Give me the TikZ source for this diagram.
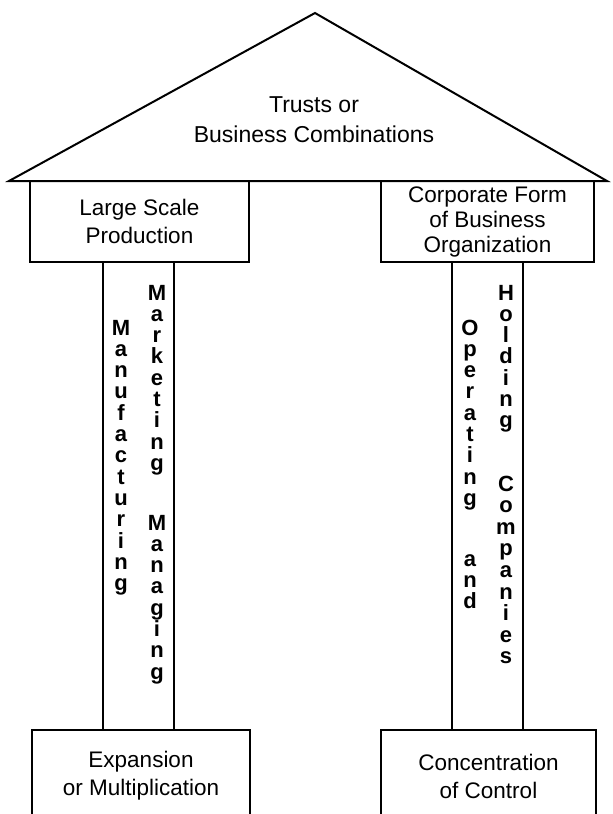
\documentclass[tikz,border=0pt]{standalone}
\usepackage{fontspec}
\setmainfont{Liberation Sans}
\tikzstyle{box} = [rectangle, draw, line width=2pt, align=center, font=\fontsize{22.5}{28}\selectfont]
\tikzstyle{letter} = [anchor=base, inner sep=0pt, font=\fontsize{22}{22}\selectfont\bfseries]
\tikzset{pillar/.style = {
    rectangle, draw, line width=2pt,
    minimum width=71pt, minimum height=468pt
  }
}

\begin{document}
\begin{tikzpicture}[x=1pt, y=-1pt]
    \useasboundingbox (0,0) rectangle (613,814);
    \clip (0,0) rectangle (613,814);

    % roof
    \coordinate (eaveL) at (9,181);
    \coordinate (peak) at (315,13);
    \coordinate (eaveR) at (607,181);
    \draw[line width=2pt] (eaveL) -- (peak) -- (eaveR) -- cycle;
    \node[align=center, font=\fontsize{23}{30}\selectfont] (trusts) at (314,120) {Trusts or\\Business Combinations};

    % pillars
    \node[pillar] (pilL) at (138.5,496) {};
    \node[pillar] (pilR) at (487.5,496) {};

    % boxes
    \node[box, minimum width=219pt, minimum height=81pt] (lsp) at (139.5,221.5) {Large Scale\\Production};
    \node[box, minimum width=213pt, minimum height=81pt, font=\fontsize{22.5}{25}\selectfont] (corp) at (487.5,221.5) {Corporate Form\\of Business\\Organization};
    \node[box, minimum width=218pt, minimum height=92pt] (expa) at (141,776) {Expansion\\or Multiplication};
    \node[box, minimum width=215pt, minimum height=92pt] (conc) at (488.5,776) {Concentration\\of Control};

    % letters, left pillar
    \foreach \ch [count=\i from 0] in {M,a,n,u,f,a,c,t,u,r,i,n,g}
        \node[letter] (manu\i) at (121,{335+21.3*\i}) {\ch};
    \foreach \ch [count=\i from 0] in {M,a,r,k,e,t,i,n,g}
        \node[letter] (mark\i) at (157,{300+21.3*\i}) {\ch};
    \foreach \ch [count=\i from 0] in {M,a,n,a,g,i,n,g}
        \node[letter] (mana\i) at (157,{530+21.3*\i}) {\ch};

    % letters, right pillar
    \foreach \ch [count=\i from 0] in {O,p,e,r,a,t,i,n,g}
        \node[letter] (oper\i) at (470,{335+21.3*\i}) {\ch};
    \foreach \ch [count=\i from 0] in {a,n,d}
        \node[letter] (and\i) at (470,{566+21*\i}) {\ch};
    \foreach \ch [count=\i from 0] in {H,o,l,d,i,n,g}
        \node[letter] (hold\i) at (506,{300+21.3*\i}) {\ch};
    \foreach \ch [count=\i from 0] in {C,o,m,p,a,n,i,e,s}
        \node[letter] (comp\i) at (506,{491+21.6*\i}) {\ch};
\end{tikzpicture}
\end{document}
